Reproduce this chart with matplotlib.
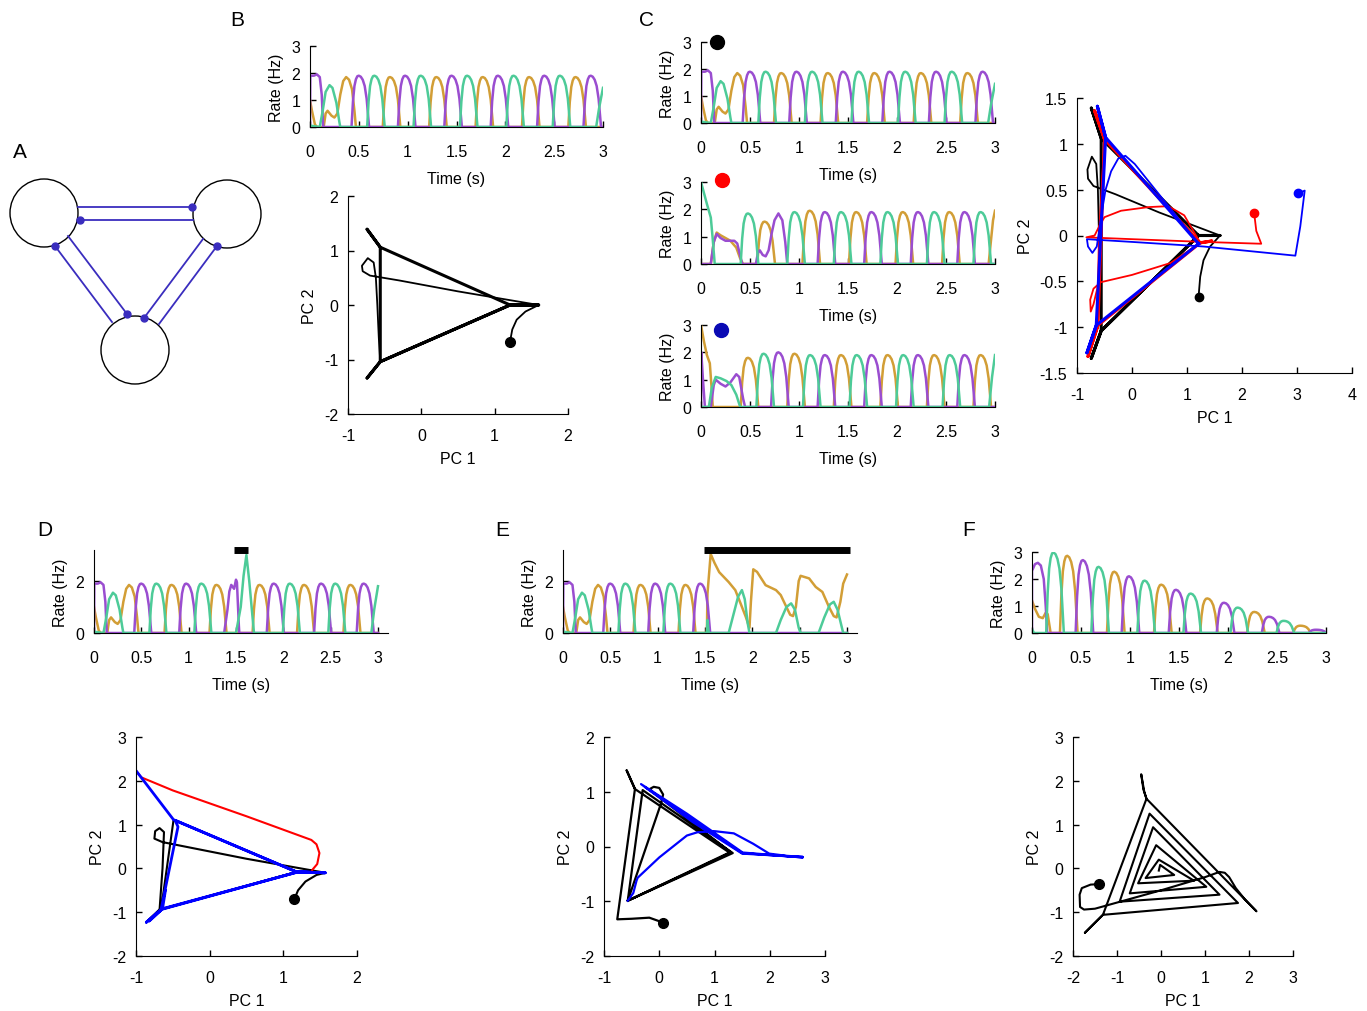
import numpy as np
import matplotlib
matplotlib.use("Agg")
import matplotlib.pyplot as plt
from matplotlib.patches import Circle

plt.rcParams['font.family'] = ['Liberation Sans', 'DejaVu Sans']
plt.rcParams['axes.unicode_minus'] = False
plt.rcParams['font.size'] = 11.5

PURPLE, ORANGE, GREEN = '#9a4dd0', '#d29e36', '#4dcb98'
NET = '#3a2dbe'

# ---------- rate traces: shared bump shape (relative to peak) ----------
PROFILE_DT = np.array([-0.075, -0.06, -0.045, -0.03, -0.015, 0, 0.02, 0.04, 0.06, 0.08, 0.095, 0.105])
PROFILE_Y = np.array([0, 0.5, 0.8, 0.93, 0.99, 1.0, 0.98, 0.92, 0.8, 0.55, 0.22, 0])

# baseline run (panel B, C top, start of D and E)
B_PUR_KN = [(0, 0), (0.003, 1.9), (0.04, 1.9), (0.07, 1.95), (0.1, 1.85), (0.12, 1.2), (0.135, 0)]
B_GRN_KN = [(0, 0.05), (0.1, 0), (0.13, 0.6), (0.16, 1.3), (0.2, 1.55), (0.23, 1.45), (0.27, 0.9), (0.3, 0.2), (0.31, 0)]
B_ORA_KN = [(0, 1.0), (0.02, 0.6), (0.05, 0.1), (0.07, 0), (0.14, 0), (0.16, 0.5), (0.18, 0.6), (0.22, 0.42),
            (0.25, 0.35), (0.28, 0.5), (0.31, 1.2), (0.34, 1.7), (0.37, 1.85), (0.40, 1.75), (0.43, 1.4),
            (0.455, 0.6), (0.47, 0)]
B_PUR_PK = [0.5, 0.975, 1.45, 1.925, 2.4, 2.875]
B_GRN_PK = [0.66, 1.135, 1.61, 2.085, 2.56]
B_ORA_PK = [0.82, 1.295, 1.77, 2.245, 2.72]
B_GRN_END = [(2.93, 0), (2.96, 0.7), (3.0, 1.45)]

# C middle (red start)
CM_GRN_KN = [(0, 3.0), (0.03, 2.6), (0.06, 2.2), (0.1, 1.7), (0.12, 0.9), (0.14, 0)]
CM_GRN_PK = [0.48, 0.955, 1.43, 1.905, 2.38, 2.855]
CM_GRN_H = [1.85, 1.9, 1.9, 1.9, 1.9, 1.9]
CM_ORA_KN = [(0, 0), (0.1, 0), (0.13, 0.8), (0.16, 1.15), (0.2, 1.05), (0.25, 0.95), (0.3, 0.85), (0.36, 0.6),
             (0.4, 0.2), (0.43, 0), (2.935, 0), (2.96, 0.9), (2.98, 1.6), (3.0, 1.95)]
CM_ORA_PK = [0.65, 1.11, 1.585, 2.06, 2.535]
CM_ORA_H = [1.55, 1.95, 1.9, 1.9, 1.9]
CM_PUR_KN = [(0, 0), (0.1, 0), (0.13, 0.8), (0.16, 1.1), (0.2, 0.95), (0.25, 0.85), (0.3, 0.85), (0.34, 0.85),
             (0.37, 0.75), (0.4, 0.3), (0.42, 0), (0.56, 0), (0.58, 0.4), (0.6, 0.5), (0.63, 0.33), (0.66, 0.28),
             (0.69, 0.5), (0.72, 1.1), (0.75, 1.6), (0.79, 1.85), (0.83, 1.6), (0.86, 0.8), (0.88, 0)]
CM_PUR_PK = [1.265, 1.74, 2.215, 2.69]

# C bottom (blue start)
CB_ORA_KN = [(0, 3.0), (0.03, 2.4), (0.06, 1.9), (0.09, 1.6), (0.11, 0.6), (0.12, 0)]
CB_ORA_PK = [0.48, 0.955, 1.43, 1.905, 2.38, 2.855]
CB_ORA_H = [1.8, 1.95, 1.9, 1.9, 1.9, 1.9]
CB_PUR_KN = [(0, 0), (0.003, 2.0), (0.02, 1.0), (0.04, 0), (0.1, 0), (0.13, 0.8), (0.15, 1.0), (0.2, 0.85),
             (0.25, 0.75), (0.3, 0.9), (0.36, 1.2), (0.39, 1.1), (0.43, 0.3), (0.45, 0)]
CB_PUR_PK = [0.79, 1.265, 1.74, 2.215, 2.69]
CB_PUR_H = [2.0, 1.9, 1.9, 1.9, 1.9]
CB_GRN_KN = [(0, 0), (0.08, 0), (0.11, 0.7), (0.15, 1.1), (0.2, 1.05), (0.26, 0.95), (0.31, 0.8), (0.36, 0.45),
             (0.4, 0), (2.94, 0), (2.97, 1.1), (3.0, 1.9)]
CB_GRN_PK = [0.64, 1.115, 1.59, 2.065, 2.54]
CB_GRN_H = [1.95, 1.9, 1.9, 1.9, 1.9]

# D (brief pulse)
D_PUR_KN = [(1.375, 0), (1.41, 0.9), (1.43, 1.6), (1.45, 1.85), (1.47, 1.75), (1.48, 1.7), (1.5, 2.05),
            (1.51, 1.95), (1.53, 0.3), (1.535, 0)]
D_PUR_PK = [0.5, 0.975, 1.9, 2.4, 2.85]
D_GRN_KN = [(1.5, 0), (1.55, 1.0), (1.58, 2.2), (1.61, 3.0), (1.64, 2.0), (1.67, 0.8), (1.69, 0),
            (2.93, 0), (2.96, 0.9), (3.0, 1.8)]
D_GRN_PK = [0.66, 1.135, 2.07, 2.55]
D_ORA_PK = [0.82, 1.295, 1.75, 2.22, 2.71]
D_BAR = [1.48, 1.63]

# E (sustained input)
E_ORA_KN = [(1.52, 0), (1.526, 1.5), (1.56, 3.04), (1.6, 2.7), (1.65, 2.34), (1.75, 1.96), (1.82, 1.65),
            (1.88, 1.1), (1.93, 0.63), (1.97, 0.2), (1.985, 1.2), (2.01, 2.45), (2.05, 2.35), (2.14, 1.84),
            (2.25, 1.65), (2.3, 1.46), (2.36, 1.0), (2.4, 0.7), (2.43, 0.65), (2.46, 1.0), (2.49, 2.0),
            (2.51, 2.2), (2.6, 2.1), (2.67, 1.77), (2.74, 1.58), (2.81, 1.0), (2.86, 0.65), (2.89, 0.6),
            (2.93, 1.2), (2.96, 1.9), (3.0, 2.25)]
E_GRN_KN = [(1.52, 0), (1.526, 0.5), (1.54, 0), (1.75, 0), (1.8, 0.7), (1.85, 1.4), (1.89, 1.65), (1.92, 1.3),
            (1.95, 0.4), (1.97, 0), (2.25, 0), (2.3, 0.5), (2.36, 1.0), (2.41, 1.14), (2.45, 0.9), (2.49, 0.2),
            (2.51, 0), (2.7, 0), (2.76, 0.6), (2.82, 1.1), (2.86, 1.2), (2.9, 0.9), (2.94, 0.3), (2.96, 0)]
E_PUR_PK = [0.5, 0.975, 1.45]
E_GRN_PK = [0.66, 1.135]
E_ORA_PK = [0.82, 1.295]
E_BAR = [1.49, 3.03]

# F (decaying)
F_PUR_KN = [(0, 0), (0.0, 2.3), (0.03, 2.55), (0.06, 2.6), (0.09, 2.5), (0.12, 2.0), (0.14, 1.0), (0.155, 0)]
F_PUR_PK = [0.52, 0.99, 1.47, 1.96, 2.42, 2.9]
F_PUR_H = [2.7, 2.1, 1.6, 1.12, 0.6, 0.12]
F_GRN_KN = [(0, 0.15), (0.02, 0)]
F_GRN_PK = [0.22, 0.68, 1.15, 1.62, 2.1, 2.57]
F_GRN_H = [2.98, 2.45, 1.94, 1.46, 0.94, 0.45]
F_ORA_KN = [(0, 1.2), (0.03, 0.9), (0.07, 0.6), (0.11, 0.55), (0.14, 0.75), (0.16, 0.7), (0.19, 0)]
F_ORA_PK = [0.36, 0.84, 1.32, 1.79, 2.27, 2.74]
F_ORA_H = [2.86, 2.27, 1.79, 1.28, 0.78, 0.27]

# ---------- PC trajectories ----------
B_TRANS = [(1.21, -0.67), (1.24, -0.45), (1.3, -0.27), (1.42, -0.12), (1.6, 0.0), (0.5, 0.25), (-0.3, 0.45),
           (-0.7, 0.54), (-0.8, 0.62), (-0.81, 0.72), (-0.73, 0.86), (-0.65, 0.78), (-0.62, 0.5), (-0.6, 0.0),
           (-0.58, -0.6), (-0.56, -1.04)]
B_CYCLE = [(-0.56, -1.04), (-0.74, -1.34), (-0.56, -1.04), (1.21, 0.0), (1.6, 0.0), (1.21, 0.0), (-0.56, 1.06),
           (-0.74, 1.39), (-0.56, 1.06), (-0.56, -1.04), (1.21, 0.0)]
C_RED_TRANS = [(2.22, 0.25), (2.26, 0.05), (2.35, -0.09), (1.3, -0.07), (0.0, -0.04), (-0.83, -0.02),
               (-0.68, 0.0), (-0.58, 0.12), (-0.5, 0.2), (-0.2, 0.27), (0.3, 0.31), (0.66, 0.32), (0.95, 0.22),
               (1.24, -0.08), (0.7, -0.3), (0.0, -0.43), (-0.57, -0.51), (-0.7, -0.58), (-0.76, -0.7),
               (-0.75, -0.83), (-0.7, -0.75), (-0.62, -0.55), (-0.6, 0.0), (-0.5, 1.05)]
C_RED_CYCLE = [(-0.5, 1.05), (-0.68, 1.36), (-0.5, 1.05), (1.24, -0.08), (1.45, -0.06), (1.24, -0.08),
               (-0.62, -0.98), (-0.8, -1.32), (-0.62, -0.98), (-0.5, 1.05)]
C_BLUE_TRANS = [(3.02, 0.46), (3.14, 0.49), (3.06, 0.1), (2.97, -0.22), (1.3, -0.12), (0.0, -0.07),
                (-0.82, -0.04), (-0.8, -0.12), (-0.72, -0.19), (-0.64, -0.12), (-0.55, 0.25), (-0.48, 0.5),
                (-0.38, 0.7), (-0.25, 0.84), (-0.12, 0.87), (0.05, 0.78), (1.21, -0.09)]
C_BLUE_CYCLE = [(1.21, -0.09), (-0.48, 1.07), (-0.63, 1.41), (-0.48, 1.07), (-0.65, -0.98), (-0.82, -1.28),
                (-0.65, -0.98), (1.21, -0.09)]
D_BLACK = [(1.15, -0.70), (1.2, -0.5), (1.3, -0.3), (1.45, -0.15), (1.57, -0.10), (0.5, 0.22), (-0.64, 0.60),
           (-0.75, 0.68), (-0.74, 0.85), (-0.68, 0.92), (-0.62, 0.83), (-0.64, 0.0), (-0.68, -0.94),
           (-0.86, -1.23), (-0.68, -0.94), (1.18, -0.08), (1.57, -0.10), (1.18, -0.08), (-0.49, 1.11),
           (-0.66, -0.94), (1.18, -0.08), (1.39, -0.04)]
D_RED = [(1.39, -0.04), (1.46, 0.1), (1.49, 0.35), (1.45, 0.55), (1.38, 0.65), (0.5, 1.19), (-0.5, 1.78),
         (-0.93, 2.08), (-0.99, 2.21)]
D_BLUE = [(-0.99, 2.21), (-0.49, 1.11), (1.18, -0.08), (1.57, -0.10), (1.2, -0.08), (-0.66, -0.94),
          (-0.86, -1.23), (-0.66, -0.94), (-0.43, 0.95), (-0.47, 1.1), (1.18, -0.08), (1.57, -0.1), (1.2, -0.08),
          (-0.64, -0.92), (-0.82, -1.2), (-0.64, -0.92), (-0.6, -0.5)]
E_BLACK = [(0.07, -1.39), (-0.18, -1.3), (-0.5, -1.32), (-0.76, -1.33), (-0.44, 1.05), (-0.59, 1.39),
           (-0.44, 1.05), (1.27, -0.11), (-0.57, -0.99), (0.03, 0.78), (0.07, 0.95), (0.0, 1.07), (-0.1, 1.09),
           (-0.17, 1.05), (-0.1, 0.98), (1.3, -0.11), (-0.57, -0.99), (-0.3, 1.03), (1.33, -0.12), (-0.57, -0.99)]
E_BLUE = [(-0.57, -0.99), (-0.47, -0.85), (-0.41, -0.62), (-0.39, -0.57), (0.0, -0.2), (0.5, 0.2), (0.69, 0.26),
          (1.0, 0.28), (1.35, 0.24), (1.7, 0.05), (1.99, -0.13), (2.3, -0.17), (2.6, -0.19), (2.2, -0.17),
          (1.5, -0.13), (0.6, 0.45), (-0.33, 1.14), (0.5, 0.6), (1.51, -0.11), (2.0, -0.15), (2.6, -0.2),
          (1.5, -0.12), (-0.25, 1.08)]
F_PATH = [(-1.42, -0.36), (-1.6, -0.37), (-1.8, -0.45), (-1.85, -0.6), (-1.84, -0.88), (-1.75, -0.94),
          (-1.5, -0.92), (0.0, -0.5), (1.0, -0.2), (1.33, -0.08), (1.45, -0.1), (1.55, -0.2), (1.7, -0.45),
          (1.9, -0.7), (2.17, -0.98), (-0.33, 1.59), (-0.4, 1.8), (-0.45, 2.15), (-0.38, 1.75), (-0.33, 1.59),
          (-1.32, -1.06), (-1.73, -1.47), (-1.32, -1.06), (1.75, -0.79), (-0.26, 1.25), (-0.94, -0.76),
          (1.33, -0.60), (-0.18, 0.94), (-0.71, -0.57), (1.03, -0.42), (-0.11, 0.53), (-0.52, -0.34),
          (0.75, -0.28), (-0.05, 0.2), (-0.35, -0.22), (0.3, -0.15), (-0.02, 0.08), (-0.05, -0.05)]

# ---------- network diagram (panel A, pixel units) ----------
NODES = [(44, 214), (227, 215), (135, 351)]
NODE_R = 34
LINKS = [((78, 207.7), (192, 207.7)), ((80, 220.7), (193, 220.7)), ((55, 247), (112, 323)),
         ((68, 237), (127, 315)), ((217, 247), (159, 325)), ((203, 240), (144, 319))]
LINK_DOTS = [(192, 207.7), (80, 220.7), (55, 247), (127, 315), (217, 247), (144, 319)]

W, H = 1367, 1012
fig = plt.figure(figsize=(W / 100, H / 100), dpi=100)


def add_ax(x0, x1, y0, y1):
    return fig.add_axes([x0 / W, 1 - y1 / H, (x1 - x0) / W, (y1 - y0) / H])


def style(ax, xpad=12):
    ax.spines['top'].set_visible(False)
    ax.spines['right'].set_visible(False)
    ax.tick_params(direction='in', length=4, width=1, labelsize=11.5)
    ax.tick_params(axis='x', pad=xpad)
    ax.tick_params(axis='y', pad=7)
    ax.patch.set_alpha(0)


def series(knots, peaks, heights):
    pts = list(knots)
    h = np.broadcast_to(heights, (len(peaks),))
    for p, hh in zip(peaks, h):
        pts += list(zip(p + PROFILE_DT, hh * PROFILE_Y))
    pts.sort()
    if pts[-1][0] < 3:
        pts.append((3.0, 0.0))
    if pts[0][0] > 0:
        pts.insert(0, (0.0, 0.0))
    t, y = zip(*pts)
    return t, y


def rate_panel(ax, ora, pur, grn, ylim=3, yticks=(0, 1, 2, 3), xmax=3):
    for s, c in ((ora, ORANGE), (pur, PURPLE), (grn, GREEN)):
        ax.plot(*series(*s), color=c, lw=1.8)
    ax.set_xlim(0, xmax)
    ax.set_ylim(0, ylim)
    ax.set_xticks([0, 0.5, 1, 1.5, 2, 2.5, 3])
    ax.set_xticklabels(['0', '0.5', '1', '1.5', '2', '2.5', '3'])
    ax.set_yticks(yticks)
    ax.set_xlabel('Time (s)', labelpad=9)
    ax.set_ylabel('Rate (Hz)', labelpad=5)
    style(ax)


def traj(ax, pts, color, lw=1.3):
    a = np.array(pts)
    ax.plot(a[:, 0], a[:, 1], color=color, lw=lw, solid_joinstyle='round')


def pc_panel(ax, xlim, ylim, xticks, yticks):
    ax.set_xlim(*xlim)
    ax.set_ylim(*ylim)
    ax.set_xticks(xticks)
    ax.set_yticks(yticks)
    ax.set_xlabel('PC 1', labelpad=6)
    ax.set_ylabel('PC 2', labelpad=5)
    style(ax, xpad=10)


B_ORA = (B_ORA_KN, B_ORA_PK, 1.85)
B_PUR = (B_PUR_KN, B_PUR_PK, 1.9)
B_GRN = (B_GRN_KN + B_GRN_END, B_GRN_PK, 1.9)

# ---- A ----
axA = add_ax(0, 270, 140, 400)
axA.set_xlim(0, 270)
axA.set_ylim(400, 140)
axA.axis('off')
for cx, cy in NODES:
    axA.add_patch(Circle((cx, cy), NODE_R, fill=False, ec='black', lw=1))
for (x0, y0), (x1, y1) in LINKS:
    axA.plot([x0, x1], [y0, y1], color=NET, lw=1.3)
dx, dy = zip(*LINK_DOTS)
axA.plot(dx, dy, 'o', color=NET, ms=5)

# ---- B ----
axB = add_ax(310, 603, 47, 128)
rate_panel(axB, B_ORA, B_PUR, B_GRN)
axB2 = add_ax(348, 568, 197, 415)
traj(axB2, B_TRANS, 'black', 1.3)
traj(axB2, B_CYCLE, 'black', 2.2)
axB2.plot(*B_TRANS[0], 'o', color='black', ms=7)
pc_panel(axB2, (-1, 2), (-2, 2), [-1, 0, 1, 2], [-2, -1, 0, 1, 2])

# ---- C ----
axC1 = add_ax(701, 995, 43, 124)
rate_panel(axC1, B_ORA, B_PUR, B_GRN)
axC1.plot(0.163, 3.0, 'o', color='black', ms=10, clip_on=False)
axC2 = add_ax(701, 995, 183, 265)
rate_panel(axC2, (CM_ORA_KN, CM_ORA_PK, CM_ORA_H), (CM_PUR_KN, CM_PUR_PK, 1.9), (CM_GRN_KN, CM_GRN_PK, CM_GRN_H))
axC2.plot(0.214, 3.07, 'o', color='red', ms=10, clip_on=False)
axC3 = add_ax(701, 995, 326, 408)
rate_panel(axC3, (CB_ORA_KN, CB_ORA_PK, CB_ORA_H), (CB_PUR_KN, CB_PUR_PK, CB_PUR_H), (CB_GRN_KN, CB_GRN_PK, CB_GRN_H))
axC3.plot(0.204, 2.82, 'o', color='#0a0ab4', ms=10, clip_on=False)

axC4 = add_ax(1077, 1352, 99, 374)
traj(axC4, B_TRANS, 'black', 1.3)
traj(axC4, B_CYCLE, 'black', 2.2)
traj(axC4, C_RED_TRANS, 'red', 1.3)
traj(axC4, C_RED_CYCLE, 'red', 2.2)
traj(axC4, C_BLUE_TRANS, 'blue', 1.3)
traj(axC4, C_BLUE_CYCLE, 'blue', 2.2)
axC4.plot(*B_TRANS[0], 'o', color='black', ms=6)
axC4.plot(*C_RED_TRANS[0], 'o', color='red', ms=6)
axC4.plot(*C_BLUE_TRANS[0], 'o', color='blue', ms=6)
pc_panel(axC4, (-1, 4), (-1.5, 1.5), [-1, 0, 1, 2, 3, 4], [-1.5, -1, -0.5, 0, 0.5, 1, 1.5])
axC4.set_yticklabels(['-1.5', '-1', '-0.5', '0', '0.5', '1', '1.5'])

# ---- D ----
axD = add_ax(94, 388.4, 550.8, 634)
rate_panel(axD, (B_ORA_KN, D_ORA_PK, 1.85), (B_PUR_KN + D_PUR_KN, D_PUR_PK, 1.9),
           (B_GRN_KN + D_GRN_KN, D_GRN_PK, 1.9), ylim=3.2, yticks=(0, 2), xmax=3.11)
axD.plot(D_BAR, [3.2, 3.2], color='black', lw=5, solid_capstyle='butt', clip_on=False)
axD2 = add_ax(136, 357, 738, 957)
traj(axD2, D_BLACK, 'black', 1.5)
traj(axD2, D_RED, 'red', 1.5)
traj(axD2, D_BLUE, 'blue', 2.0)
axD2.plot(*D_BLACK[0], 'o', color='black', ms=7)
pc_panel(axD2, (-1, 2), (-2, 3), [-1, 0, 1, 2], [-2, -1, 0, 1, 2, 3])

# ---- E ----
axE = add_ax(563, 857.4, 550.8, 634)
rate_panel(axE, (B_ORA_KN + E_ORA_KN, E_ORA_PK, 1.85), (B_PUR_KN, E_PUR_PK, 1.9),
           (B_GRN_KN + E_GRN_KN, E_GRN_PK, 1.9), ylim=3.2, yticks=(0, 2), xmax=3.11)
axE.plot(E_BAR, [3.2, 3.2], color='black', lw=5, solid_capstyle='butt', clip_on=False)
axE2 = add_ax(604, 825, 738, 957)
traj(axE2, E_BLACK, 'black', 1.6)
traj(axE2, E_BLUE, 'blue', 1.6)
axE2.plot(*E_BLACK[0], 'o', color='black', ms=7)
pc_panel(axE2, (-1, 3), (-2, 2), [-1, 0, 1, 2, 3], [-2, -1, 0, 1, 2])

# ---- F ----
axF = add_ax(1032, 1326, 553, 634)
rate_panel(axF, (F_ORA_KN, F_ORA_PK, F_ORA_H), (F_PUR_KN, F_PUR_PK, F_PUR_H), (F_GRN_KN, F_GRN_PK, F_GRN_H))
axF2 = add_ax(1073, 1293, 738, 957)
traj(axF2, F_PATH, 'black', 1.5)
axF2.plot(*F_PATH[0], 'o', color='black', ms=7)
pc_panel(axF2, (-2, 3), (-2, 3), [-2, -1, 0, 1, 2, 3], [-2, -1, 0, 1, 2, 3])

# panel letters
for letter, x, y in [('A', 20, 152), ('B', 237, 20), ('C', 646, 20), ('D', 45, 531), ('E', 502, 531), ('F', 969, 531)]:
    fig.text(x / W, 1 - y / H, letter, fontsize=15, ha='center', va='center')

fig.savefig('out.png', dpi=100)
